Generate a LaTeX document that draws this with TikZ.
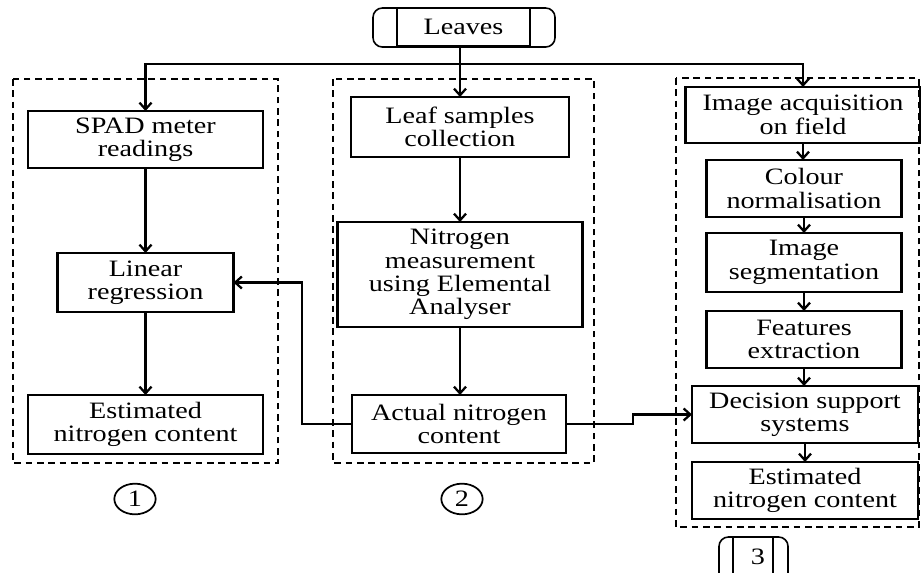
\documentclass[tikz,border=0pt]{standalone}
\usepackage{fontspec}
\setmainfont{Liberation Serif}[FakeStretch=1.2]
\usetikzlibrary{arrows.meta,shapes.geometric}
\begin{document}
\begin{tikzpicture}[x=0.75pt,y=-0.75pt,
  every node/.style={font=\fontsize{17.6pt}{17.6pt}\selectfont},
  boxn/.style={draw,line width=1.9pt,align=center,inner sep=0pt,outer sep=0pt},
  grp/.style={draw,line width=1.4pt,dash pattern=on 5pt off 3.5pt},
  conn/.style={line width=1.7pt},
  arr/.style={conn,-{Straight Barb[length=5pt,width=9pt,line width=1.7pt]}},
  circ/.style={draw,ellipse,line width=1.3pt,minimum width=31pt,minimum height=23pt,inner sep=0pt}]
\clip (0,0) rectangle (921,572);
\fill[white] (0,0) rectangle (921,572);
% group frames
\draw[grp] (13,79) rectangle (278,463);
\draw[grp] (333,79) rectangle (594,463);
\draw[grp] (676,78) rectangle (919,527);
% Leaves
\draw[line width=1.2pt,rounded corners=7pt] (373,8) rectangle (555,47);
\node[draw,line width=1.2pt,minimum width=99.75pt,minimum height=27.75pt,inner sep=0pt] (leaves) at (463.5,27) {Leaves};
% column 1
\node[boxn,minimum width=176.25pt,minimum height=42.75pt] (spad) at (145.5,139.5) {SPAD meter\\readings};
\node[boxn,minimum width=132pt,minimum height=44.25pt] (lin) at (145.5,282.5) {Linear\\regression};
\node[boxn,minimum width=176.25pt,minimum height=44.25pt] (est1) at (145.5,424.5) {Estimated\\nitrogen content};
% column 2
\node[boxn,minimum width=163.5pt,minimum height=45pt] (leaf) at (460,127) {Leaf samples\\collection};
\node[boxn,minimum width=183.75pt,minimum height=78.75pt] (nit) at (460,274.5) {Nitrogen\\measurement\\using Elemental\\Analyser};
\node[boxn,minimum width=160.5pt,minimum height=43.5pt] (act) at (459,424) {Actual nitrogen\\content};
% column 3
\node[boxn,minimum width=176.25pt,minimum height=42pt] (img) at (803,115) {Image acquisition\\on field};
\node[boxn,minimum width=146.25pt,minimum height=42.75pt] (col) at (804,188.5) {Colour\\normalisation};
\node[boxn,minimum width=146.25pt,minimum height=44.25pt] (seg) at (804,262.5) {Image\\segmentation};
\node[boxn,minimum width=146.25pt,minimum height=42.75pt] (feat) at (804,339.5) {Features\\extraction};
\node[boxn,minimum width=169.5pt,minimum height=42.75pt] (dss) at (805,414.5) {Decision support\\systems};
\node[boxn,minimum width=169.5pt,minimum height=42.75pt] (est3) at (805,490.5) {Estimated\\nitrogen content};
% circled labels
\node[circ] (c1) at (135,499) {1};
\node[circ] (c2) at (462,499) {2};
% label 3
\draw[line width=1.2pt,rounded corners=7pt] (719,580) -- (719,537) -- (788,537) -- (788,580);
\draw[line width=1.2pt] (733,580) -- (733,537);
\draw[line width=1.2pt] (773,580) -- (773,537);
\node (c3) at (758,557) {3};
% trunk
\coordinate (j) at (460,64);
\draw[conn] (leaves.south -| j) -- (j);
\draw[arr] (j) -| (spad.north);
\draw[arr] (j) -- (leaf.north);
\draw[arr] (j) -| (img.north);
% vertical flows
\draw[arr] (spad.south) -- (lin.north);
\draw[arr] (lin.south) -- (est1.north);
\draw[arr] (leaf.south) -- (nit.north);
\draw[arr] (nit.south) -- (nit.south |- act.north);
\draw[arr] (img.south) -- (img.south |- col.north);
\draw[arr] (col.south) -- (seg.north);
\draw[arr] (seg.south) -- (feat.north);
\draw[arr] (feat.south) -- (feat.south |- dss.north);
\draw[arr] (dss.south) -- (est3.north);
% cross connectors
\coordinate (fb) at (302,282.5);
\draw[arr] (act.west) -| (fb) -- (lin.east);
\coordinate (hop) at (633,414.5);
\draw[arr] (act.east) -| (hop) -- (dss.west);
\end{tikzpicture}
\end{document}
